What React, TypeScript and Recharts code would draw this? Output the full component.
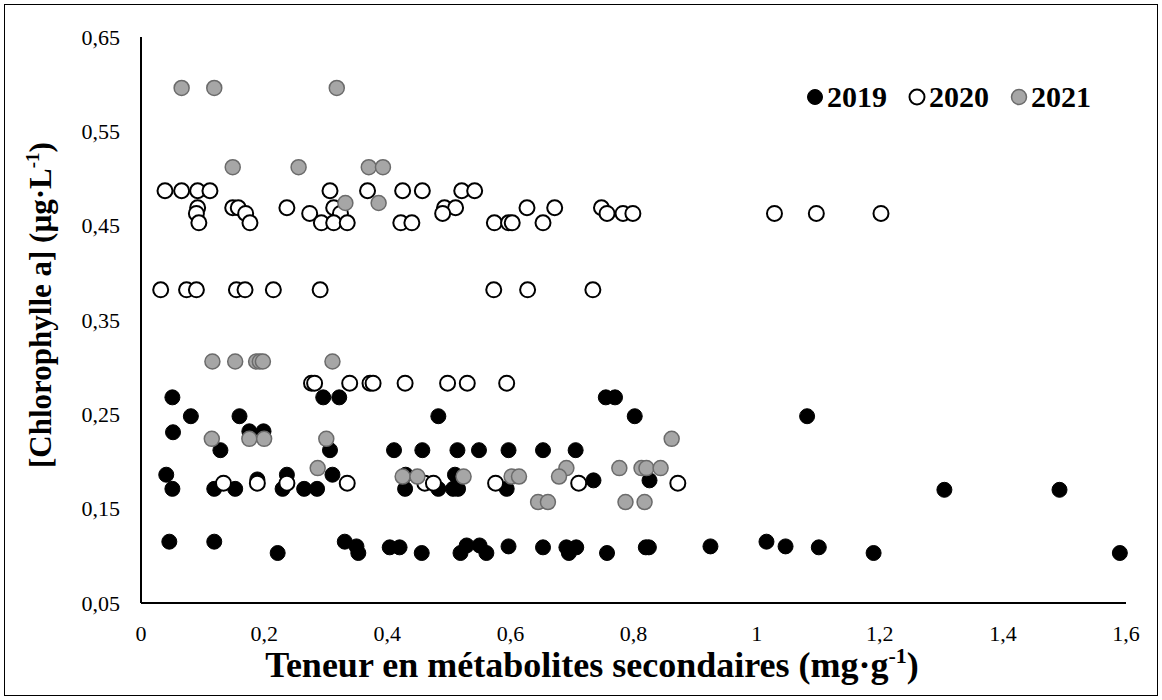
import { ScatterChart, Scatter, XAxis, YAxis, Label } from 'recharts';

const FONT = "'Times New Roman', 'Liberation Serif', serif";

const xTicks = [0, 0.2, 0.4, 0.6, 0.8, 1, 1.2, 1.4, 1.6];
const yTicks = [0.05, 0.15, 0.25, 0.35, 0.45, 0.55, 0.65];

// [teneur, chlorophylle a]
const points2019: [number, number][] = [
  [0.051, 0.268], [0.296, 0.268], [0.322, 0.268], [0.755, 0.268], [0.77, 0.268],
  [0.081, 0.248], [0.16, 0.248], [0.483, 0.248], [0.802, 0.248], [1.082, 0.248],
  [0.052, 0.231], [0.176, 0.232], [0.199, 0.232],
  [0.129, 0.212], [0.307, 0.212], [0.411, 0.212], [0.457, 0.212], [0.514, 0.212],
  [0.549, 0.212], [0.597, 0.212], [0.653, 0.212], [0.706, 0.212],
  [0.041, 0.186], [0.237, 0.186], [0.311, 0.186], [0.43, 0.186], [0.51, 0.186],
  [0.189, 0.181], [0.735, 0.18], [0.826, 0.18],
  [0.051, 0.171], [0.119, 0.171], [0.153, 0.171], [0.23, 0.171], [0.265, 0.171],
  [0.286, 0.171], [0.429, 0.171], [0.483, 0.171], [0.507, 0.171], [0.515, 0.171],
  [0.594, 0.171], [1.305, 0.17], [1.492, 0.17],
  [0.046, 0.115], [0.119, 0.115], [0.331, 0.115], [1.016, 0.115],
  [0.35, 0.11], [0.404, 0.109], [0.42, 0.109], [0.529, 0.111], [0.55, 0.111],
  [0.597, 0.11], [0.653, 0.109], [0.691, 0.109], [0.707, 0.109], [0.82, 0.109],
  [0.825, 0.109], [0.925, 0.11], [1.047, 0.11], [1.101, 0.109],
  [0.222, 0.103], [0.353, 0.103], [0.456, 0.103], [0.519, 0.103], [0.561, 0.103],
  [0.695, 0.103], [0.757, 0.103], [1.19, 0.103], [1.59, 0.103],
];

const points2020: [number, number][] = [
  [0.039, 0.487], [0.066, 0.487], [0.092, 0.487], [0.112, 0.487], [0.307, 0.487],
  [0.368, 0.487], [0.425, 0.487], [0.457, 0.487], [0.521, 0.487], [0.542, 0.487],
  [0.092, 0.469], [0.149, 0.469], [0.158, 0.469], [0.237, 0.469], [0.313, 0.469],
  [0.493, 0.469], [0.511, 0.469], [0.627, 0.469], [0.672, 0.469], [0.748, 0.469],
  [0.09, 0.463], [0.17, 0.463], [0.274, 0.463], [0.324, 0.463], [0.49, 0.463],
  [0.757, 0.463], [0.783, 0.463], [0.799, 0.463], [1.029, 0.463], [1.097, 0.463],
  [1.202, 0.463],
  [0.094, 0.453], [0.177, 0.453], [0.293, 0.453], [0.313, 0.453], [0.335, 0.453],
  [0.422, 0.453], [0.44, 0.453], [0.574, 0.453], [0.597, 0.453], [0.603, 0.453],
  [0.653, 0.453],
  [0.032, 0.382], [0.074, 0.382], [0.09, 0.382], [0.155, 0.382], [0.169, 0.382],
  [0.215, 0.382], [0.291, 0.382], [0.573, 0.382], [0.628, 0.382], [0.734, 0.382],
  [0.277, 0.283], [0.282, 0.283], [0.339, 0.283], [0.372, 0.283], [0.377, 0.283],
  [0.429, 0.283], [0.498, 0.283], [0.53, 0.283], [0.594, 0.283],
  [0.134, 0.177], [0.189, 0.177], [0.237, 0.177], [0.335, 0.177], [0.461, 0.177],
  [0.475, 0.177], [0.576, 0.177], [0.711, 0.177], [0.872, 0.177],
];

const points2021: [number, number][] = [
  [0.066, 0.596], [0.119, 0.596], [0.318, 0.596],
  [0.149, 0.512], [0.256, 0.512], [0.37, 0.512], [0.393, 0.512],
  [0.332, 0.474], [0.386, 0.474],
  [0.116, 0.306], [0.153, 0.306], [0.187, 0.306], [0.193, 0.306], [0.198, 0.306], [0.311, 0.306],
  [0.115, 0.224], [0.176, 0.224], [0.2, 0.224], [0.301, 0.224], [0.862, 0.224],
  [0.287, 0.193], [0.691, 0.193], [0.777, 0.193], [0.813, 0.193], [0.821, 0.193], [0.844, 0.193],
  [0.425, 0.184], [0.449, 0.184], [0.524, 0.184], [0.602, 0.184], [0.614, 0.184], [0.679, 0.184],
  [0.645, 0.157], [0.661, 0.157], [0.787, 0.157], [0.818, 0.157],
];

const toRows = (pts: [number, number][]) => pts.map(([x, y]) => ({ x, y }));

const dot = (fill: string, stroke: string, sw: number) => (props: any) => (
  <circle cx={props.cx} cy={props.cy} r={7.5} fill={fill} stroke={stroke} strokeWidth={sw} />
);

const fmtX = (v: number) => (v === 0 || v === 1 ? String(v) : v.toFixed(1).replace('.', ','));
const fmtY = (v: number) => v.toFixed(2).replace('.', ',');

const XTitle = () => (
  <text x={592} y={677} textAnchor="middle" fontFamily={FONT} fontWeight="bold" fontSize={36} fill="#000">
    Teneur en métabolites secondaires (mg·g
    <tspan dy={-14} fontSize={22}>-1</tspan>
    <tspan dy={14}>)</tspan>
  </text>
);

const YTitle = () => (
  <text
    x={0}
    y={0}
    transform="translate(51, 305) rotate(-90)"
    textAnchor="middle"
    fontFamily={FONT}
    fontWeight="bold"
    fontSize={31}
    fill="#000"
  >
    [Chlorophylle a] (µg·L
    <tspan dy={-12} fontSize={19}>-1</tspan>
    <tspan dy={12}>)</tspan>
  </text>
);

const legendItems = [
  { label: '2019', fill: '#000', stroke: '#000', sw: 1 },
  { label: '2020', fill: '#fff', stroke: '#000', sw: 2 },
  { label: '2021', fill: '#a6a6a6', stroke: '#6b6b6b', sw: 1.5 },
];

export default function App() {
  return (
    <div style={{ position: 'relative', width: 1162, height: 700, background: '#fff' }}>
      <style>{'body{margin:0}'}</style>
      <div
        style={{
          position: 'absolute',
          left: 4,
          top: 4,
          width: 1154,
          height: 692,
          border: '1px solid #000',
          boxSizing: 'border-box',
          pointerEvents: 'none',
        }}
      />
      <ScatterChart width={1162} height={700} margin={{ top: 37, right: 36, left: 81, bottom: 57 }}>
        <XAxis
          type="number"
          dataKey="x"
          domain={[0, 1.6]}
          ticks={xTicks}
          tickFormatter={fmtX}
          height={40}
          tickLine={false}
          tickSize={0}
          tickMargin={22}
          axisLine={{ stroke: '#000', strokeWidth: 2 }}
          tick={{ fill: '#000', fontFamily: FONT, fontSize: 22 }}
          interval={0}
        >
          <Label content={<XTitle />} />
        </XAxis>
        <YAxis
          type="number"
          dataKey="y"
          domain={[0.05, 0.65]}
          ticks={yTicks}
          tickFormatter={fmtY}
          width={60}
          tickLine={false}
          tickSize={0}
          tickMargin={21}
          axisLine={{ stroke: '#000', strokeWidth: 2 }}
          tick={{ fill: '#000', fontFamily: FONT, fontSize: 22 }}
          interval={0}
        >
          <Label content={<YTitle />} />
        </YAxis>
        <Scatter name="2019" data={toRows(points2019)} shape={dot('#000', '#000', 1)} isAnimationActive={false} />
        <Scatter name="2020" data={toRows(points2020)} shape={dot('#fff', '#000', 2)} isAnimationActive={false} />
        <Scatter name="2021" data={toRows(points2021)} shape={dot('#a6a6a6', '#6b6b6b', 1.5)} isAnimationActive={false} />
      </ScatterChart>
      <div
        style={{
          position: 'absolute',
          left: 806,
          top: 80,
          display: 'flex',
          alignItems: 'center',
          fontFamily: FONT,
          fontWeight: 'bold',
          fontSize: 30,
          lineHeight: '34px',
          color: '#000',
        }}
      >
        {legendItems.map((it) => (
          <div key={it.label} style={{ display: 'flex', alignItems: 'center', marginRight: 21 }}>
            <svg width={18} height={18} style={{ marginRight: 3 }}>
              <circle cx={9} cy={9} r={7.5} fill={it.fill} stroke={it.stroke} strokeWidth={it.sw} />
            </svg>
            <span>{it.label}</span>
          </div>
        ))}
      </div>
    </div>
  );
}
